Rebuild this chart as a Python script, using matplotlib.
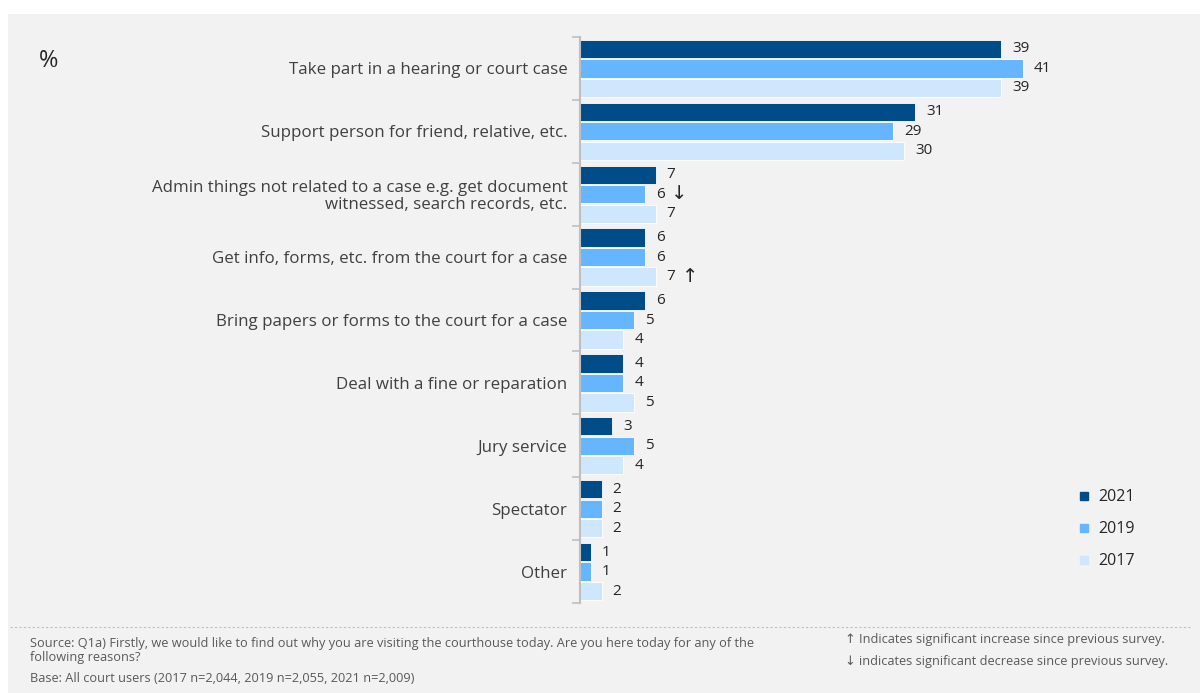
import matplotlib
matplotlib.use("Agg")
import matplotlib.pyplot as plt
from matplotlib.lines import Line2D
from matplotlib.patches import Rectangle
import numpy as np

plt.rcParams['font.family'] = ['Open Sans', 'DejaVu Sans']

categories = [
    "Take part in a hearing or court case",
    "Support person for friend, relative, etc.",
    "Admin things not related to a case e.g. get document\nwitnessed, search records, etc.",
    "Get info, forms, etc. from the court for a case",
    "Bring papers or forms to the court for a case",
    "Deal with a fine or reparation",
    "Jury service",
    "Spectator",
    "Other",
]
years = ["2021", "2019", "2017"]
values_2021 = [39, 31, 7, 6, 6, 4, 3, 2, 1]
values_2019 = [41, 29, 6, 6, 5, 4, 5, 2, 1]
values_2017 = [39, 30, 7, 7, 4, 5, 4, 2, 2]
colors = ["#004c88", "#66b5ff", "#cfe7fc"]

# significance markers: (category index, series index, symbol)
sig_marks = [(2, 1, "\u2193"), (3, 2, "\u2191")]

series = [values_2021, values_2019, values_2017]

fig = plt.figure(figsize=(12, 6.93), dpi=100)
fig.patch.set_facecolor("white")
# grey panel behind everything
fig.add_artist(Rectangle((8 / 1200, 0), 1 - 8 / 1200, 1 - 14 / 693,
                         transform=fig.transFigure, facecolor="#f2f2f2",
                         edgecolor="none", zorder=-10))

ax = fig.add_axes([580 / 1200, 1 - 603 / 693, 594 / 1200, 566 / 693])
ax.set_facecolor("none")

y = np.arange(len(categories))
offsets = [-0.31, 0.0, 0.31]
bar_h = 0.29
for vals, off, col, yr in zip(series, offsets, colors, years):
    ax.barh(y + off, vals, height=bar_h, color=col, edgecolor="white",
            linewidth=0.6, label=yr)
    for yi, v in zip(y, vals):
        ax.annotate(str(v), (v, yi + off), xytext=(8, 0),
                    textcoords="offset points", va="center", ha="left",
                    fontsize=11, color="#262626")

for ci, si, sym in sig_marks:
    v = series[si][ci]
    ax.annotate(sym, (v, y[ci] + offsets[si]), xytext=(19, 0),
                textcoords="offset points", va="center", ha="left",
                fontsize=14, color="#262626")

ax.set_xlim(0, 55)
ax.set_ylim(len(categories) - 0.5, -0.5)
ax.set_xticks([])
ax.set_yticks(y)
ax.set_yticklabels(categories, fontsize=12.2, color="#404040", linespacing=1.05)
ax.tick_params(axis="y", length=0, pad=9)
ax.set_yticks(np.arange(-0.5, len(categories), 1.0), minor=True)
ax.tick_params(axis="y", which="minor", length=6, width=1.2, color="#bfbfbf")
for s in ["top", "right", "bottom"]:
    ax.spines[s].set_visible(False)
ax.spines["left"].set_color("#bfbfbf")
ax.spines["left"].set_linewidth(1.5)

fig.text(39 / 1200, 1 - 61 / 693, "%", fontsize=17, color="#262626",
         va="center", ha="left")

# legend
leg_handles = [Line2D([], [], marker="s", linestyle="none", markersize=6,
                      markerfacecolor=c, markeredgecolor=c) for c in colors]
leg = fig.legend(leg_handles, years, loc="upper left",
                 bbox_to_anchor=(1063 / 1200, 1 - 475 / 693), frameon=False,
                 fontsize=11.5, handlelength=0.8, handletextpad=0.5,
                 labelspacing=1.0, labelcolor="#262626")

# footer
fig.add_artist(Line2D([10 / 1200, 1190 / 1200], [1 - 627 / 693] * 2,
                      transform=fig.transFigure, color="#bfbfbf",
                      linewidth=0.8, linestyle=(0, (2, 2))))
foot_kw = dict(fontsize=9.2, color="#595959", va="center", ha="left")
fig.text(30 / 1200, 1 - 644 / 693,
         "Source: Q1a) Firstly, we would like to find out why you are visiting the courthouse today. "
         "Are you here today for any of the", **foot_kw)
fig.text(30 / 1200, 1 - 658 / 693, "following reasons?", **foot_kw)
fig.text(30 / 1200, 1 - 679 / 693,
         "Base: All court users (2017 n=2,044, 2019 n=2,055, 2021 n=2,009)", **foot_kw)
fig.text(845 / 1200, 1 - 640 / 693,
         "\u2191 Indicates significant increase since previous survey.", **foot_kw)
fig.text(845 / 1200, 1 - 661 / 693,
         "\u2193 indicates significant decrease since previous survey.", **foot_kw)

fig.savefig("out.png", dpi=100, facecolor=fig.get_facecolor())
